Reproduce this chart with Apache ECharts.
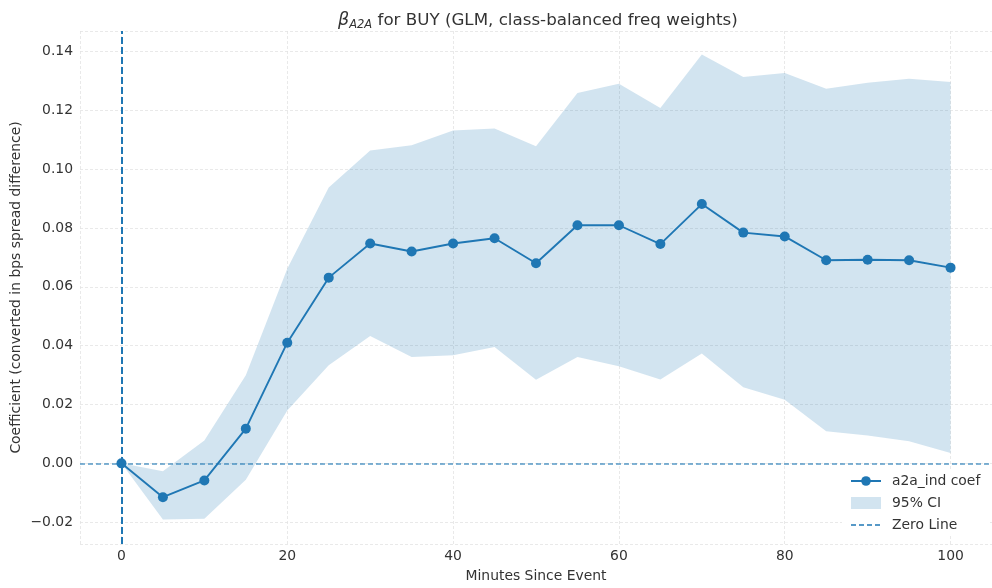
<!DOCTYPE html>
<html>
<head>
<meta charset="utf-8">
<script src="https://cdn.jsdelivr.net/npm/echarts@6/dist/echarts.min.js"></script>
<style>
  html, body { margin: 0; padding: 0; background: #fff; }
  #chart { width: 992px; height: 588px; }
</style>
</head>
<body>
<div id="chart"></div>
<script>
  // minutes since event
  var minutes = [0, 5, 10, 15, 20, 25, 30, 35, 40, 45, 50, 55, 60, 65, 70, 75, 80, 85, 90, 95, 100];
  // a2a_ind coefficient
  var coef = [0.0, -0.0115, -0.0058, 0.0118, 0.0410, 0.0631, 0.0747, 0.0720, 0.0747, 0.0765, 0.0680,
              0.0809, 0.0809, 0.0745, 0.0881, 0.0784, 0.0771, 0.0690, 0.0692, 0.0690, 0.0665];
  // 95% confidence interval
  var ciLower = [0.0, -0.0191, -0.0188, -0.0056, 0.0180, 0.0333, 0.0433, 0.0361, 0.0367, 0.0395, 0.0284,
                 0.0361, 0.0330, 0.0285, 0.0373, 0.0259, 0.0216, 0.0109, 0.0095, 0.0075, 0.0035];
  var ciUpper = [0.0, -0.0027, 0.0078, 0.0299, 0.0661, 0.0937, 0.1063, 0.1081, 0.1131, 0.1138, 0.1077,
                 0.1258, 0.1290, 0.1207, 0.1389, 0.1313, 0.1326, 0.1273, 0.1293, 0.1307, 0.1296];

  var blue = '#1f77b4';
  var bandColor = 'rgba(31,119,180,0.2)';
  var zeroColor = 'rgba(31,119,180,0.75)';
  var textColor = '#333';
  var fs = 13.9;

  var chart = echarts.init(document.getElementById('chart'));

  var gridLine = { show: true, lineStyle: { color: '#e3e3e3', type: [3, 2], width: 0.8 } };

  // band polygon: upper edge left->right, lower edge right->left
  function renderBand(params, api) {
    var pts = [];
    for (var i = 0; i < minutes.length; i++) pts.push(api.coord([minutes[i], ciUpper[i]]));
    for (var j = minutes.length - 1; j >= 0; j--) pts.push(api.coord([minutes[j], ciLower[j]]));
    return {
      type: 'polygon',
      shape: { points: pts },
      style: { fill: bandColor, stroke: 'none' }
    };
  }

  chart.setOption({
    animation: false,
    title: {
      left: 333,
      top: 3,
      text: '{b|β}{s|A2A}{n| for BUY (GLM, class-balanced freq weights)}',
      textStyle: {
        fontWeight: 'normal',
        rich: {
          b: { fontFamily: 'DejaVu Sans', fontStyle: 'italic', fontWeight: 'normal', fontSize: 17.5, color: textColor, lineHeight: 25, verticalAlign: 'middle' },
          s: { fontFamily: 'DejaVu Sans', fontStyle: 'italic', fontWeight: 'normal', fontSize: 11.5, color: textColor, lineHeight: 25, verticalAlign: 'bottom', padding: [0, 0, 2, 0] },
          n: { fontFamily: 'DejaVu Sans', fontWeight: 'normal', fontSize: 16.7, color: textColor, lineHeight: 25, verticalAlign: 'middle' }
        }
      }
    },
    grid: { left: 80, right: 0, top: 31, bottom: 44, outerBoundsMode: 'none', containLabel: false },
    legend: {
      orient: 'vertical',
      left: 842,
      top: 470,
      itemWidth: 30,
      itemHeight: 12,
      itemGap: 8,
      backgroundColor: '#fff',
      padding: [4, 8, 4, 8],
      textStyle: { fontFamily: 'DejaVu Sans', fontSize: fs, color: textColor, padding: [0, 0, 0, 6] },
      data: [
        { name: 'a2a_ind coef' },
        { name: '95% CI', icon: 'rect', itemStyle: { color: bandColor } },
        { name: 'Zero Line', itemStyle: { opacity: 0 } }
      ]
    },
    xAxis: {
      type: 'value',
      min: -5,
      max: 105,
      splitNumber: 5,
      name: 'Minutes Since Event',
      nameLocation: 'middle',
      nameGap: 25,
      nameTextStyle: { fontFamily: 'DejaVu Sans', fontSize: fs, color: textColor },
      axisLine: { show: false },
      axisTick: { show: false },
      axisLabel: {
        fontFamily: 'DejaVu Sans', fontSize: fs, color: textColor, margin: 5,
        formatter: function (v) { return v % 20 === 0 ? String(v) : ''; }
      },
      splitLine: gridLine
    },
    yAxis: {
      type: 'value',
      min: -0.0274,
      max: 0.1469,
      splitNumber: 8,
      name: 'Coefficient (converted in bps spread difference)',
      nameLocation: 'middle',
      nameGap: 57,
      nameMoveOverlap: false,
      nameTextStyle: { fontFamily: 'DejaVu Sans', fontSize: fs, color: textColor },
      axisLine: { show: false },
      axisTick: { show: false },
      axisLabel: {
        fontFamily: 'DejaVu Sans', fontSize: fs, color: textColor, margin: 7,
        formatter: function (v) {
          var k = v * 50;
          if (Math.abs(k - Math.round(k)) > 1e-6) return '';
          var s = Math.abs(v).toFixed(2);
          return v < -1e-9 ? '\u2212' + s : s;
        }
      },
      splitLine: gridLine
    },
    series: [
      {
        name: '95% CI',
        type: 'custom',
        silent: true,
        itemStyle: { color: bandColor },
        renderItem: renderBand,
        data: [[0, 0]],
        z: 1
      },
      {
        name: 'Zero Line',
        type: 'line',
        symbol: 'none',
        itemStyle: { color: zeroColor },
        lineStyle: { color: zeroColor, type: [5, 3], width: 1.5 },
        data: [],
        markLine: {
          silent: true,
          symbol: ['none', 'none'],
          label: { show: false },
          lineStyle: { color: zeroColor, type: [5, 3], width: 1.5 },
          data: [{ yAxis: 0 }]
        },
        z: 2
      },
      {
        name: 'a2a_ind coef',
        type: 'line',
        symbol: 'circle',
        symbolSize: 10,
        color: blue,
        lineStyle: { color: blue, width: 1.9 },
        itemStyle: { color: blue },
        data: minutes.map(function (m, i) { return [m, coef[i]]; }),
        markLine: {
          silent: true,
          symbol: ['none', 'none'],
          label: { show: false },
          lineStyle: { color: blue, type: [7, 3], width: 2 },
          data: [{ xAxis: 0 }]
        },
        z: 3
      }
    ]
  });
</script>
</body>
</html>
